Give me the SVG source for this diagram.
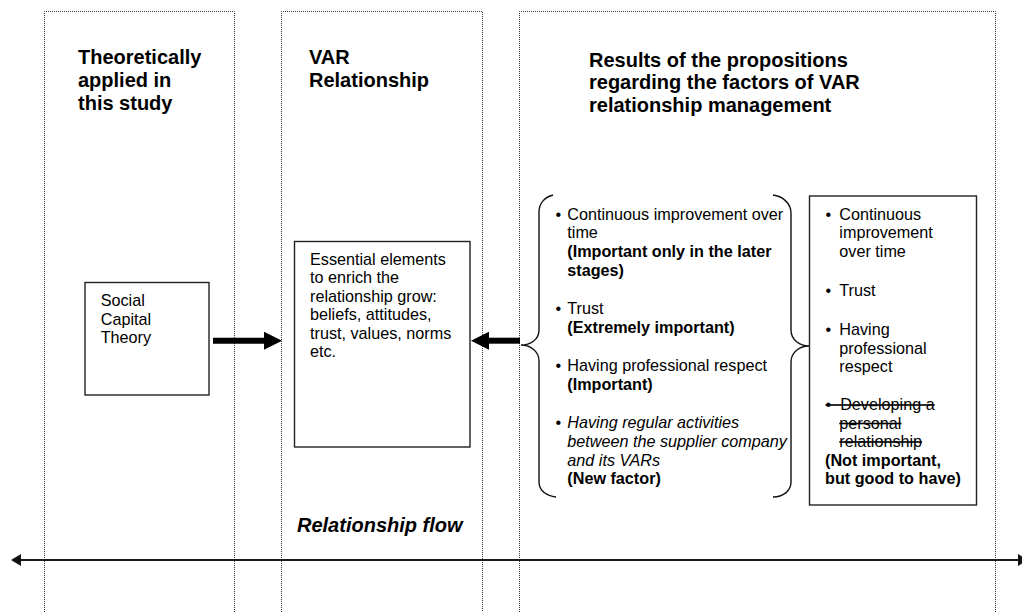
<svg xmlns="http://www.w3.org/2000/svg" width="1022" height="612" viewBox="0 0 1022 612">
  <style>
    text { font-family: "Liberation Sans", Arial, sans-serif; fill: #000; }
    .h { font-size: 20px; font-weight: bold; }
    .b { font-size: 16.2px; }
    .bb { font-size: 16.2px; font-weight: bold; }
    .bi { font-size: 16.2px; font-style: italic; }
    .flow { font-size: 20px; font-weight: bold; font-style: italic; }
    .strike { text-decoration: line-through; }
    .col { fill: none; stroke: #333; stroke-width: 1; stroke-dasharray: 1 1; }
    .box { fill: #fff; stroke: #222; stroke-width: 1.4; }
    .brace { fill: none; stroke: #111; stroke-width: 1.4; }
    .thick { stroke: #000; stroke-width: 6; }
    .flowline { stroke: #1a1a1a; stroke-width: 2; }
  </style>
  <defs>
    <marker id="bigHead" viewBox="0 0 18 18" markerUnits="userSpaceOnUse" markerWidth="18" markerHeight="18" refX="1" refY="9" orient="auto">
      <path d="M0,0 L18,9 L0,18 z" fill="#000"/>
    </marker>
    <marker id="smallHead" viewBox="0 0 10 12" markerUnits="userSpaceOnUse" markerWidth="10" markerHeight="12" refX="1" refY="6" orient="auto-start-reverse">
      <path d="M0,0 L10,6 L0,12 z" fill="#111"/>
    </marker>
  </defs>

  <!-- dotted column frames, open at the bottom -->
  <g id="columns">
    <path class="col" d="M44.5,630 V11.5 H234.5 V630"/>
    <path class="col" d="M281.5,630 V11.5 H482.5 V630"/>
    <path class="col" d="M519.5,630 V11.5 H995.5 V630"/>
  </g>

  <!-- column headings -->
  <g id="heading-theory">
    <text class="h" x="78" y="64.3">Theoretically</text>
    <text class="h" x="78" y="87.3">applied in</text>
    <text class="h" x="78" y="110.2">this study</text>
  </g>
  <g id="heading-var">
    <text class="h" x="309" y="64.3">VAR</text>
    <text class="h" x="309" y="87.3">Relationship</text>
  </g>
  <g id="heading-results">
    <text class="h" x="589" y="66.5">Results of the propositions</text>
    <text class="h" x="589" y="89.3">regarding the factors of VAR</text>
    <text class="h" x="589" y="111.8">relationship management</text>
  </g>

  <!-- connectors -->
  <g id="connectors">
    <line class="thick" x1="213" y1="340.7" x2="265" y2="340.7" marker-end="url(#bigHead)"/>
    <line class="thick" x1="520" y1="340.7" x2="488" y2="340.7" marker-end="url(#bigHead)"/>
    <line class="flowline" x1="20" y1="560" x2="1019" y2="560" marker-start="url(#smallHead)" marker-end="url(#smallHead)"/>
  </g>

  <g id="node-social-capital">
    <rect class="box" x="85" y="282.5" width="124" height="112.5"/>
    <text class="b" x="100.7" y="306">Social</text>
    <text class="b" x="100.7" y="324.5">Capital</text>
    <text class="b" x="100.7" y="343">Theory</text>
  </g>

  <g id="node-essential-elements">
    <rect class="box" x="294.5" y="241.5" width="175.5" height="205.5"/>
    <text class="b" x="310" y="264.5">Essential elements</text>
    <text class="b" x="310" y="283">to enrich the</text>
    <text class="b" x="310" y="301.5">relationship grow:</text>
    <text class="b" x="310" y="320">beliefs, attitudes,</text>
    <text class="b" x="310" y="338.5">trust, values, norms</text>
    <text class="b" x="310" y="357">etc.</text>
  </g>

  <g id="node-proposition-results">
    <path class="brace" d="M553,195 C545,197 539,203 539,212 L539,330 C539,340 530,345 521,345 C530,345 539,351 539,361 L539,482 C539,491 547,496 556,497"/>
    <path class="brace" d="M773,195 C782,196 791,203 791,213 L791,330 C791,340 800,346 809,346 C800,346 791,352 791,362 L791,482 C791,491 783,497 773,497"/>
    <text class="b" x="555.5" y="219.5">•</text>
    <text class="b" x="567.3" y="219.5">Continuous improvement over</text>
    <text class="b" x="567.3" y="238.3">time</text>
    <text class="bb" x="567.3" y="257">(Important only in the later</text>
    <text class="bb" x="567.3" y="275.8">stages)</text>
    <text class="b" x="555.5" y="313.5">•</text>
    <text class="b" x="567.3" y="313.5">Trust</text>
    <text class="bb" x="567.3" y="332.5">(Extremely important)</text>
    <text class="b" x="555.5" y="370.5">•</text>
    <text class="b" x="567.3" y="370.5">Having professional respect</text>
    <text class="bb" x="567.3" y="389.5">(Important)</text>
    <text class="b" x="555.5" y="428">•</text>
    <text class="bi" x="567.3" y="428">Having regular activities</text>
    <text class="bi" x="567.3" y="446.8">between the supplier company</text>
    <text class="bi" x="567.3" y="465.6">and its VARs</text>
    <text class="bb" x="567.3" y="484.4">(New factor)</text>
  </g>

  <g id="node-summary">
    <rect class="box" x="809.5" y="196" width="167" height="309"/>
    <text class="b" x="825.5" y="219.5">•</text>
    <text class="b" x="839.3" y="219.5">Continuous</text>
    <text class="b" x="839.3" y="238.3">improvement</text>
    <text class="b" x="839.3" y="257">over time</text>
    <text class="b" x="825.5" y="296">•</text>
    <text class="b" x="839.3" y="296">Trust</text>
    <text class="b" x="825.5" y="334.8">•</text>
    <text class="b" x="839.3" y="334.8">Having</text>
    <text class="b" x="839.3" y="353.5">professional</text>
    <text class="b" x="839.3" y="372">respect</text>
    <text class="b strike" x="825.5" y="410" xml:space="preserve">•  Developing a</text>
    <text class="b strike" x="839.3" y="428.5">personal</text>
    <text class="b strike" x="839.3" y="447">relationship</text>
    <text class="bb" x="825" y="465.5">(Not important,</text>
    <text class="bb" x="825" y="484">but good to have)</text>
  </g>

  <g id="label-flow">
    <text class="flow" x="297" y="532">Relationship flow</text>
  </g>
</svg>
